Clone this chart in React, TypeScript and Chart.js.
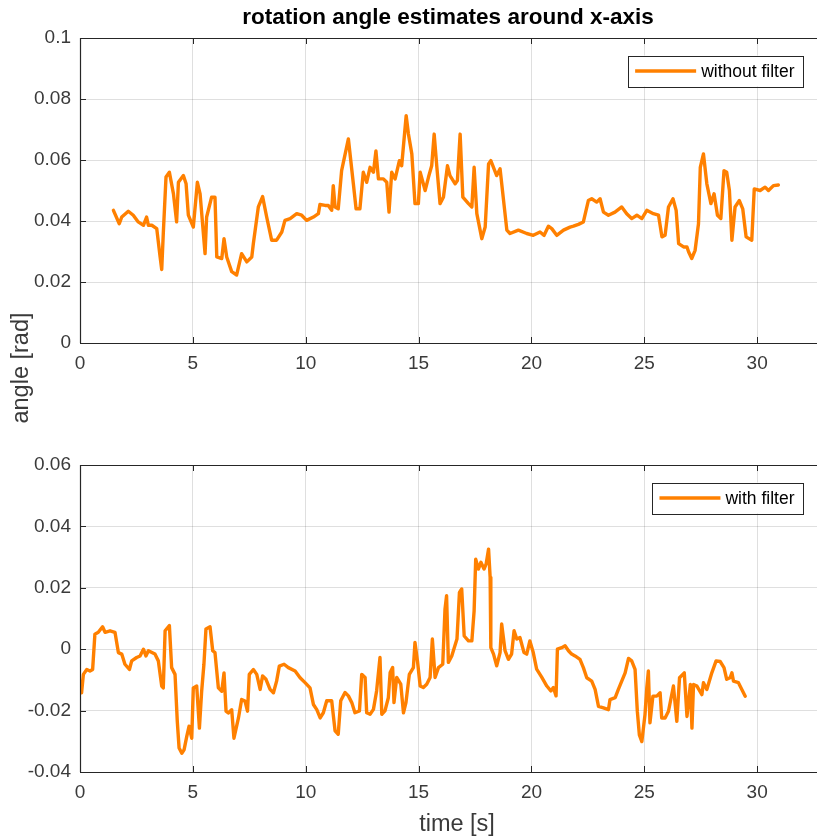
import React, { useEffect, useRef } from "react";
import { Chart, registerables } from "chart.js";
Chart.register(...registerables);

// ---------- data ----------
const topTime = [1.48,1.74,1.85,2.14,2.36,2.58,2.81,2.95,3.03,3.18,3.40,3.55,3.62,3.69,3.81,3.96,4.14,4.28,4.36,4.58,4.70,4.80,5.02,5.20,5.32,5.54,5.61,5.83,5.98,6.06,6.28,6.38,6.50,6.72,6.94,7.16,7.39,7.61,7.68,7.90,8.09,8.27,8.49,8.71,8.94,9.08,9.31,9.60,9.82,10.04,10.34,10.56,10.63,10.86,11.00,11.15,11.22,11.30,11.44,11.59,11.89,12.11,12.23,12.40,12.55,12.70,12.85,13.00,13.11,13.22,13.44,13.59,13.69,13.81,13.96,14.15,14.25,14.45,14.55,14.70,14.84,14.99,15.07,15.29,15.44,15.58,15.69,15.81,15.95,16.10,16.28,16.39,16.62,16.72,16.84,16.96,17.21,17.36,17.46,17.58,17.80,17.95,18.10,18.20,18.46,18.61,18.91,19.05,19.42,19.79,20.08,20.38,20.56,20.75,20.90,21.12,21.42,21.71,21.86,22.08,22.30,22.52,22.67,22.89,23.04,23.19,23.41,23.70,24.00,24.22,24.44,24.67,24.89,25.11,25.40,25.63,25.78,25.92,26.07,26.27,26.41,26.52,26.74,26.89,26.96,27.10,27.25,27.40,27.48,27.62,27.77,27.95,28.09,28.24,28.39,28.53,28.65,28.77,28.88,29.02,29.21,29.36,29.51,29.76,29.87,30.13,30.35,30.50,30.72,30.94];
const topAngle = [0.0435,0.0391,0.0413,0.0432,0.0419,0.0397,0.0386,0.0413,0.0386,0.0386,0.0375,0.0282,0.0241,0.0359,0.0544,0.0560,0.0489,0.0397,0.0527,0.0549,0.0522,0.0419,0.0380,0.0527,0.0489,0.0293,0.0413,0.0478,0.0478,0.0282,0.0277,0.0342,0.0282,0.0234,0.0223,0.0293,0.0266,0.0282,0.0326,0.0446,0.0480,0.0413,0.0337,0.0337,0.0364,0.0402,0.0408,0.0424,0.0419,0.0402,0.0413,0.0424,0.0454,0.0451,0.0451,0.0435,0.0516,0.0446,0.0440,0.0565,0.0669,0.0522,0.0440,0.0440,0.0560,0.0527,0.0576,0.0560,0.0630,0.0538,0.0538,0.0527,0.0429,0.0560,0.0538,0.0598,0.0581,0.0745,0.0685,0.0620,0.0457,0.0457,0.0560,0.0500,0.0544,0.0581,0.0685,0.0576,0.0457,0.0478,0.0581,0.0549,0.0522,0.0533,0.0685,0.0478,0.0457,0.0446,0.0576,0.0424,0.0342,0.0380,0.0587,0.0598,0.0549,0.0571,0.0370,0.0359,0.0370,0.0359,0.0353,0.0364,0.0353,0.0383,0.0375,0.0353,0.0370,0.0380,0.0383,0.0389,0.0397,0.0467,0.0473,0.0462,0.0473,0.0429,0.0419,0.0429,0.0446,0.0424,0.0408,0.0419,0.0408,0.0435,0.0424,0.0419,0.0348,0.0353,0.0446,0.0473,0.0435,0.0326,0.0315,0.0315,0.0299,0.0277,0.0304,0.0391,0.0576,0.0620,0.0522,0.0457,0.0489,0.0419,0.0408,0.0565,0.0560,0.0500,0.0337,0.0446,0.0467,0.0440,0.0348,0.0337,0.0505,0.0500,0.0511,0.0500,0.0516,0.0518];

const bottomTime = [0.00,0.07,0.15,0.30,0.44,0.56,0.66,0.81,1.00,1.11,1.33,1.55,1.70,1.85,1.99,2.19,2.29,2.51,2.66,2.81,2.92,3.03,3.32,3.47,3.62,3.69,3.77,3.96,4.06,4.21,4.31,4.39,4.51,4.61,4.73,4.83,4.95,5.02,5.17,5.29,5.39,5.49,5.58,5.76,5.88,5.98,6.13,6.28,6.38,6.47,6.57,6.72,6.82,7.02,7.16,7.31,7.42,7.50,7.68,7.83,7.98,8.09,8.24,8.42,8.57,8.71,8.83,9.04,9.23,9.53,9.75,9.97,10.19,10.34,10.49,10.64,10.78,10.93,11.15,11.30,11.44,11.55,11.74,11.89,12.04,12.18,12.38,12.48,12.63,12.70,12.85,13.00,13.14,13.29,13.37,13.51,13.66,13.74,13.85,13.91,14.03,14.21,14.33,14.44,14.59,14.77,14.84,14.95,15.07,15.21,15.36,15.51,15.61,15.73,15.88,16.07,16.17,16.24,16.32,16.47,16.70,16.81,16.91,17.02,17.21,17.36,17.46,17.53,17.65,17.76,17.90,17.99,18.10,18.17,18.20,18.32,18.46,18.61,18.68,18.83,18.98,19.12,19.23,19.35,19.49,19.67,19.79,19.93,20.08,20.23,20.46,20.68,20.86,20.97,21.09,21.15,21.34,21.49,21.64,21.78,21.93,22.15,22.30,22.45,22.67,22.82,22.97,23.19,23.41,23.48,23.71,23.85,24.00,24.15,24.30,24.44,24.59,24.69,24.78,24.89,25.03,25.11,25.18,25.25,25.38,25.55,25.70,25.77,25.92,26.07,26.29,26.44,26.56,26.77,26.89,27.04,27.11,27.18,27.33,27.55,27.62,27.77,27.99,28.18,28.36,28.53,28.65,28.80,28.88,28.95,29.17,29.32,29.47];
const bottomAngle = [-0.0104,-0.0142,-0.0082,-0.0066,-0.0071,-0.0066,0.0049,0.0055,0.0073,0.0055,0.0060,0.0055,-0.0011,-0.0016,-0.0049,-0.0066,-0.0038,-0.0027,-0.0022,0.0000,-0.0022,-0.0005,-0.0016,-0.0038,-0.0120,-0.0126,0.0060,0.0077,-0.0060,-0.0082,-0.0235,-0.0322,-0.0339,-0.0328,-0.0284,-0.0251,-0.0290,-0.0126,-0.0120,-0.0257,-0.0137,-0.0049,0.0066,0.0073,-0.0005,-0.0011,-0.0126,-0.0137,-0.0077,-0.0202,-0.0208,-0.0197,-0.0290,-0.0224,-0.0164,-0.0169,-0.0202,-0.0082,-0.0066,-0.0082,-0.0131,-0.0087,-0.0098,-0.0131,-0.0142,-0.0104,-0.0055,-0.0049,-0.0060,-0.0071,-0.0093,-0.0109,-0.0126,-0.0180,-0.0197,-0.0224,-0.0207,-0.0168,-0.0168,-0.0266,-0.0277,-0.0168,-0.0141,-0.0152,-0.0174,-0.0207,-0.0201,-0.0082,-0.0092,-0.0207,-0.0212,-0.0196,-0.0136,-0.0027,-0.0212,-0.0201,-0.0158,-0.0076,-0.0060,-0.0174,-0.0092,-0.0114,-0.0207,-0.0174,-0.0082,-0.0060,0.0022,-0.0038,-0.0120,-0.0125,-0.0114,-0.0092,0.0033,-0.0092,-0.0060,-0.0049,0.0130,0.0174,-0.0043,-0.0022,0.0033,0.0185,0.0196,0.0043,0.0027,0.0027,0.0125,0.0293,0.0261,0.0283,0.0261,0.0277,0.0326,0.0234,0.0005,-0.0016,-0.0054,-0.0011,0.0082,-0.0005,-0.0033,-0.0016,0.0060,0.0033,0.0038,-0.0011,-0.0016,0.0027,-0.0011,-0.0065,-0.0092,-0.0120,-0.0136,-0.0125,-0.0152,0.0000,0.0005,0.0011,-0.0005,-0.0016,-0.0022,-0.0033,-0.0060,-0.0093,-0.0104,-0.0131,-0.0186,-0.0191,-0.0197,-0.0164,-0.0158,-0.0131,-0.0104,-0.0077,-0.0030,-0.0038,-0.0066,-0.0202,-0.0279,-0.0301,-0.0213,-0.0126,-0.0071,-0.0240,-0.0153,-0.0153,-0.0142,-0.0224,-0.0224,-0.0202,-0.0120,-0.0235,-0.0093,-0.0077,-0.0219,-0.0115,-0.0257,-0.0115,-0.0120,-0.0148,-0.0109,-0.0131,-0.0077,-0.0038,-0.0040,-0.0060,-0.0098,-0.0093,-0.0077,-0.0104,-0.0109,-0.0131,-0.0153];

const xTickStep = 5;
const xMin = 0;
const xMax = 32.65;
const topYRange = [0, 0.1];
const bottomYRange = [-0.04, 0.06];
const yTickStep = 0.02;

const titleText = "rotation angle estimates around x-axis";
const yLabelText = "angle [rad]";
const xLabelText = "time [s]";
const topLegend = "without filter";
const bottomLegend = "with filter";

// ---------- styles ----------
const FONT = "'Liberation Sans', Arial, Helvetica, sans-serif";
const AX = "#262626";
const TICKTXT = "#3a3a3a";
const GRID = "rgba(38,38,38,0.15)";
const ORANGE = "rgb(255,128,0)";

const fmt = (v: number) => String(parseFloat(v.toFixed(2)));

const decorPlugin = {
  id: "decor",
  afterDraw(chart: any, _args: any, opts: any) {
    const ctx = chart.ctx as CanvasRenderingContext2D;
    const a = chart.chartArea;
    const xs = chart.scales.x;
    const ys = chart.scales.y;
    ctx.save();

    // legend
    if (opts.legend) {
      ctx.font = `17.5px ${FONT}`;
      const tw = ctx.measureText(opts.legend).width;
      const h = 31;
      const w = 7 + 61 + 5 + tw + 9;
      const right = a.right - 13.5;
      const top = a.top + 17.5;
      const left = right - w;
      ctx.fillStyle = "#fff";
      ctx.fillRect(left, top, w, h);
      ctx.strokeStyle = AX;
      ctx.lineWidth = 1;
      ctx.strokeRect(Math.round(left) + 0.5, Math.round(top) + 0.5, Math.round(w), h);
      ctx.strokeStyle = ORANGE;
      ctx.lineWidth = 3.4;
      ctx.beginPath();
      ctx.moveTo(left + 7, top + h / 2);
      ctx.lineTo(left + 68, top + h / 2);
      ctx.stroke();
      ctx.fillStyle = "#000";
      ctx.textAlign = "left";
      ctx.textBaseline = "middle";
      ctx.fillText(opts.legend, left + 73, top + h / 2 + 1);
    }

    // axis lines
    ctx.strokeStyle = AX;
    ctx.lineWidth = 1.2;
    ctx.beginPath();
    ctx.moveTo(a.left, a.top + 0.5);
    ctx.lineTo(a.right, a.top + 0.5);
    ctx.moveTo(a.left + 0.5, a.top);
    ctx.lineTo(a.left + 0.5, a.bottom);
    ctx.moveTo(a.left, a.bottom + 0.5);
    ctx.lineTo(a.right, a.bottom + 0.5);
    ctx.stroke();

    // inward ticks
    const TL = 6;
    ctx.lineWidth = 1;
    ctx.beginPath();
    xs.ticks.forEach((t: any) => {
      const px = Math.round(xs.getPixelForValue(t.value)) + 0.5;
      ctx.moveTo(px, a.bottom);
      ctx.lineTo(px, a.bottom - TL);
      ctx.moveTo(px, a.top);
      ctx.lineTo(px, a.top + TL);
    });
    ys.ticks.forEach((t: any) => {
      const py = Math.round(ys.getPixelForValue(t.value)) + 0.5;
      ctx.moveTo(a.left, py);
      ctx.lineTo(a.left + TL, py);
    });
    ctx.stroke();

    // tick labels
    ctx.fillStyle = TICKTXT;
    ctx.font = `19px ${FONT}`;
    ctx.textAlign = "center";
    ctx.textBaseline = "middle";
    xs.ticks.forEach((t: any) => {
      ctx.fillText(fmt(t.value), xs.getPixelForValue(t.value), a.bottom + 21);
    });
    ctx.textAlign = "right";
    ys.ticks.forEach((t: any) => {
      ctx.fillText(fmt(t.value), a.left - 9, ys.getPixelForValue(t.value));
    });

    // title
    if (opts.title) {
      ctx.fillStyle = "#000";
      ctx.font = `bold 22.5px ${FONT}`;
      ctx.textAlign = "center";
      ctx.textBaseline = "middle";
      ctx.fillText(opts.title, opts.titleX, opts.titleY);
    }
    // x label
    if (opts.xlabel) {
      ctx.fillStyle = TICKTXT;
      ctx.font = `23.5px ${FONT}`;
      ctx.textAlign = "center";
      ctx.textBaseline = "middle";
      ctx.fillText(opts.xlabel, opts.xlabelX, opts.xlabelY);
    }
    // y label
    if (opts.ylabel) {
      ctx.fillStyle = TICKTXT;
      ctx.font = `23.5px ${FONT}`;
      ctx.textAlign = "center";
      ctx.textBaseline = "middle";
      ctx.translate(opts.ylabelX, opts.ylabelY);
      ctx.rotate(-Math.PI / 2);
      ctx.fillText(opts.ylabel, 0, 0);
    }
    ctx.restore();
  },
};

function makeConfig(
  times: number[],
  values: number[],
  yRange: number[],
  padTop: number,
  xAxisHeight: number,
  decor: any
): any {
  return {
    type: "line",
    data: {
      datasets: [
        {
          data: times.map((t, i) => ({ x: t, y: values[i] })),
          borderColor: ORANGE,
          borderWidth: 3.4,
          pointRadius: 0,
          tension: 0,
          fill: false,
          borderJoinStyle: "round",
          borderCapStyle: "round",
        },
      ],
    },
    options: {
      animation: false,
      responsive: false,
      devicePixelRatio: 1,
      events: [],
      layout: { padding: { top: padTop, left: 0, right: 0, bottom: 0 } },
      plugins: {
        legend: { display: false },
        tooltip: { enabled: false },
        title: { display: false },
        decor,
      },
      scales: {
        x: {
          type: "linear",
          min: xMin,
          max: xMax,
          ticks: { stepSize: xTickStep, includeBounds: false, display: false },
          grid: { color: GRID, lineWidth: 1, drawTicks: false },
          border: { display: false },
          afterFit: (s: any) => {
            s.height = xAxisHeight;
          },
        },
        y: {
          type: "linear",
          min: yRange[0],
          max: yRange[1],
          ticks: { stepSize: yTickStep, display: false },
          grid: { color: GRID, lineWidth: 1, drawTicks: false },
          border: { display: false },
          afterFit: (s: any) => {
            s.width = 80;
          },
        },
      },
    },
    plugins: [decorPlugin],
  };
}

export default function App() {
  const topRef = useRef<HTMLCanvasElement>(null);
  const botRef = useRef<HTMLCanvasElement>(null);

  useEffect(() => {
    const c1 = new Chart(
      topRef.current!,
      makeConfig(topTime, topAngle, topYRange, 38, 102, {
        legend: topLegend,
        title: titleText,
        titleX: 448,
        titleY: 18,
        ylabel: yLabelText,
        ylabelX: 22,
        ylabelY: 368,
      })
    );
    const c2 = new Chart(
      botRef.current!,
      makeConfig(bottomTime, bottomAngle, bottomYRange, 20, 67, {
        legend: bottomLegend,
        xlabel: xLabelText,
        xlabelX: 457,
        xlabelY: 380,
      })
    );
    return () => {
      c1.destroy();
      c2.destroy();
    };
  }, []);

  return (
    <div style={{ position: "absolute", left: 0, top: 0, width: 817, height: 839, background: "#fff" }}>
      <canvas ref={topRef} width={817} height={445} style={{ position: "absolute", left: 0, top: 0 }} />
      <canvas ref={botRef} width={817} height={394} style={{ position: "absolute", left: 0, top: 445 }} />
    </div>
  );
}
